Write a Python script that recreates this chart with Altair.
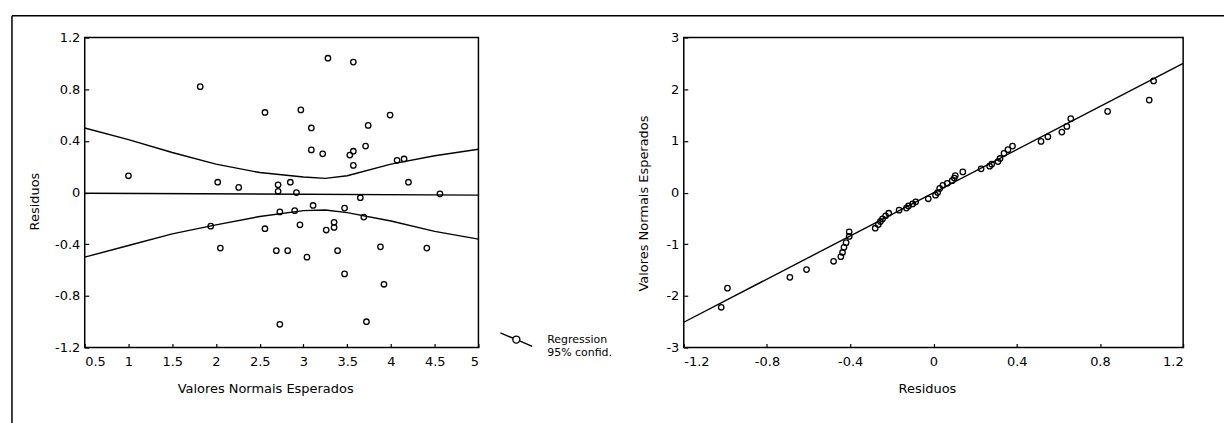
import altair as alt
import pandas as pd

# ---- left panel: residuals against expected normal values ----
expected_vals = [1.00, 1.82, 1.94, 2.02, 2.05, 2.26, 2.56, 2.56, 2.69, 2.71,
                 2.71, 2.73, 2.73, 2.82, 2.85, 2.90, 2.92, 2.96, 2.97, 3.04,
                 3.09, 3.09, 3.11, 3.22, 3.26, 3.28, 3.35, 3.35, 3.39, 3.47,
                 3.47, 3.53, 3.57, 3.57, 3.57, 3.65, 3.69, 3.71, 3.72, 3.74,
                 3.88, 3.92, 3.99, 4.07, 4.15, 4.20, 4.41, 4.56]
residual_vals = [0.13, 0.82, -0.26, 0.08, -0.43, 0.04, 0.62, -0.28, -0.45, 0.06,
                 0.01, -0.15, -1.02, -0.45, 0.08, -0.14, 0.00, -0.25, 0.64, -0.50,
                 0.50, 0.33, -0.10, 0.30, -0.29, 1.04, -0.27, -0.23, -0.45, -0.12,
                 -0.63, 0.29, 0.32, 1.01, 0.21, -0.04, -0.19, 0.36, -1.00, 0.52,
                 -0.42, -0.71, 0.60, 0.25, 0.26, 0.08, -0.43, -0.01]

# regression line and 95% confidence bands
reg_x = [0.5, 5.0]
reg_y = [-0.005, -0.02]
band_x = [0.5, 1.0, 1.5, 2.0, 2.5, 3.0, 3.25, 3.5, 4.0, 4.5, 5.0]
band_upper = [0.50, 0.41, 0.31, 0.22, 0.155, 0.12, 0.11, 0.13, 0.22, 0.285, 0.335]
band_lower = [-0.50, -0.41, -0.32, -0.25, -0.185, -0.14, -0.135, -0.155, -0.22, -0.30, -0.36]

left_x_ticks = [0.5, 1, 1.5, 2, 2.5, 3, 3.5, 4, 4.5, 5]
left_y_ticks = [-1.2, -0.8, -0.4, 0, 0.4, 0.8, 1.2]

# ---- right panel: normal probability plot of the residuals ----
npp_resid = [-1.02, -0.99, -0.69, -0.61, -0.48, -0.445, -0.437, -0.43, -0.42, -0.405,
             -0.405, -0.28, -0.265, -0.255, -0.245, -0.23, -0.215, -0.165, -0.13, -0.12,
             -0.10, -0.085, -0.025, 0.01, 0.02, 0.03, 0.045, 0.066, 0.09, 0.10,
             0.105, 0.141, 0.229, 0.27, 0.28, 0.31, 0.32, 0.339, 0.358, 0.38,
             0.517, 0.55, 0.617, 0.641, 0.66, 0.837, 1.037, 1.058]
npp_normal = [-2.22, -1.85, -1.64, -1.49, -1.33, -1.24, -1.16, -1.06, -0.97, -0.85,
              -0.76, -0.69, -0.62, -0.56, -0.51, -0.45, -0.40, -0.34, -0.30, -0.26,
              -0.22, -0.18, -0.12, -0.05, 0.00, 0.08, 0.14, 0.18, 0.23, 0.28,
              0.33, 0.40, 0.46, 0.51, 0.55, 0.60, 0.66, 0.76, 0.83, 0.90,
              0.99, 1.08, 1.17, 1.28, 1.43, 1.57, 1.79, 2.16]
npp_line_x = [-1.2, 1.2]
npp_line_y = [-2.51, 2.50]

right_x_ticks = [-1.2, -0.8, -0.4, 0, 0.4, 0.8, 1.2]
right_y_ticks = [-3, -2, -1, 0, 1, 2, 3]

FONT = "DejaVu Sans"
LABEL = "'' + datum.value"

left_points = pd.DataFrame({"esperado": expected_vals, "residuo": residual_vals})
left_reg = pd.DataFrame({"esperado": reg_x, "residuo": reg_y,
                         "serie": ["Regression 95% confid."] * len(reg_x)})
left_band = pd.DataFrame({
    "esperado": band_x + band_x,
    "residuo": band_upper + band_lower,
    "lado": ["sup"] * len(band_x) + ["inf"] * len(band_x),
})

lx = alt.X("esperado:Q", scale=alt.Scale(domain=[0.5, 5], nice=False, zero=False),
           axis=alt.Axis(values=left_x_ticks, labelExpr=LABEL,
                         title="Valores Normais Esperados", titleX=181))
ly = alt.Y("residuo:Q", scale=alt.Scale(domain=[-1.2, 1.2], nice=False, zero=False),
           axis=alt.Axis(values=left_y_ticks, labelExpr=LABEL,
                         title="Residuos", titleY=164, titlePadding=13))

pts_left = alt.Chart(left_points).mark_point(
    shape="circle", filled=False, color="black", size=30, strokeWidth=1.3, opacity=1
).encode(x=lx, y=ly)

legend_symbol = ("M-1,-0.42L-0.2,-0.085M0.2,0.085L1,0.42"
                 "M0.22,0A0.22,0.22,0,1,1,-0.22,0A0.22,0.22,0,1,1,0.22,0Z")

reg_left = alt.Chart(left_reg).mark_line(strokeWidth=1.4).encode(
    x=lx, y=ly,
    color=alt.Color("serie:N", scale=alt.Scale(range=["black"]),
                    legend=alt.Legend(
                        title=None, orient="none", legendX=416, legendY=286,
                        symbolType=legend_symbol, symbolSize=1024,
                        symbolStrokeWidth=1.4, symbolFillColor="white",
                        labelExpr="['Regression', '95% confid.']",
                        labelFont=FONT, labelFontSize=11, labelColor="black",
                        labelOffset=14)),
)

band_left = alt.Chart(left_band).mark_line(strokeWidth=1.4, color="black").encode(
    x=lx, y=ly, detail="lado:N"
)

# outer frame around the figure
frame_src = pd.DataFrame({"k": [0]})
frame_top = alt.Chart(frame_src).mark_rule(color="black", strokeWidth=1.5).encode(
    x=alt.value(-73), x2=alt.value(1143), y=alt.value(-22))
frame_left = alt.Chart(frame_src).mark_rule(color="black", strokeWidth=1.5).encode(
    x=alt.value(-73), y=alt.value(-22), y2=alt.value(388))

left = alt.layer(band_left, reg_left, pts_left, frame_top, frame_left).properties(
    width=395, height=311)

right_points = pd.DataFrame({"residuo": npp_resid, "normal": npp_normal})
right_line = pd.DataFrame({"residuo": npp_line_x, "normal": npp_line_y})

rx = alt.X("residuo:Q", scale=alt.Scale(domain=[-1.2, 1.2], nice=False, zero=False),
           axis=alt.Axis(values=right_x_ticks, labelExpr=LABEL,
                         title="Residuos", titleX=244))
ry = alt.Y("normal:Q", scale=alt.Scale(domain=[-3, 3], nice=False, zero=False),
           axis=alt.Axis(values=right_y_ticks, labelExpr=LABEL,
                         title="Valores Normais Esperados", titleY=166, titlePadding=15))

pts_right = alt.Chart(right_points).mark_point(
    shape="circle", filled=False, color="black", size=30, strokeWidth=1.3, opacity=1
).encode(x=rx, y=ry)
line_right = alt.Chart(right_line).mark_line(color="black", strokeWidth=1.4).encode(
    x=rx, y=ry)

right = alt.layer(line_right, pts_right).properties(width=501, height=311)

# ticks are drawn pointing into the plot: the axis is pulled inside by the
# tick length so the ticks end on the frame
chart = alt.hconcat(left, right, spacing=206, bounds="flush").properties(
    padding={"left": 10, "top": 13, "right": 0, "bottom": 0},
    background="white",
).configure_view(
    stroke="black", strokeWidth=1.5
).configure_axis(
    domain=False, ticks=True, tickSize=4, tickColor="black", tickWidth=1.2,
    offset=-4, grid=False,
    labelFont=FONT, labelFontSize=13, labelColor="black",
    titleFont=FONT, titleFontSize=13, titleFontWeight="normal", titleColor="black",
).configure_axisX(
    labelPadding=8, titlePadding=14
).configure_axisY(
    labelPadding=5
)

chart.save("out.html", embed_options={"renderer": "svg", "actions": False})
